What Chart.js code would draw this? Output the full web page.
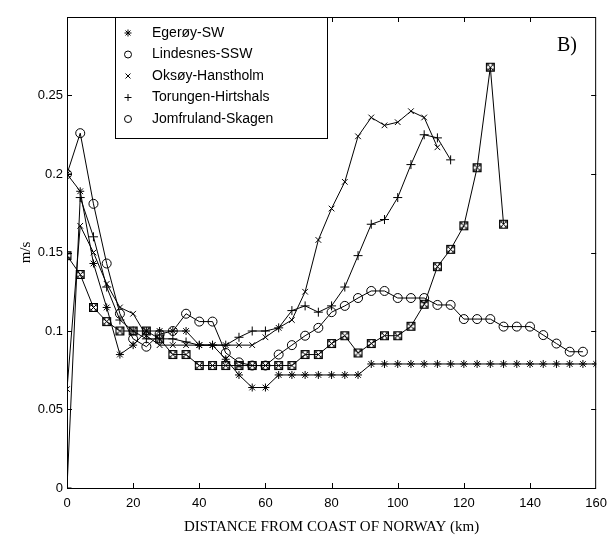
<!DOCTYPE html>
<html>
<head>
<meta charset="utf-8">
<script src="https://cdn.jsdelivr.net/npm/chart.js@4.4.1/dist/chart.umd.min.js"></script>
<style>
  body { margin: 0; background: #fff; }
</style>
</head>
<body>
<canvas id="chart" width="615" height="540"></canvas>
<script>
// distance from the Norwegian coast, km (every station sampled every 4 km)
const distanceKm = [0, 4, 8, 12, 16, 20, 24, 28, 32, 36, 40, 44, 48, 52, 56, 60, 64, 68, 72, 76,
  80, 84, 88, 92, 96, 100, 104, 108, 112, 116, 120, 124, 128, 132, 136, 140, 144, 148, 152, 156, 160];

const egeroySW = [0.2, 0.189, 0.143, 0.115, 0.085, 0.091, 0.1, 0.1, 0.1, 0.1,
  0.091, 0.091, 0.082, 0.072, 0.064, 0.064, 0.072, 0.072, 0.072, 0.072,
  0.072, 0.072, 0.072, 0.079, 0.079, 0.079, 0.079, 0.079, 0.079, 0.079,
  0.079, 0.079, 0.079, 0.079, 0.079, 0.079, 0.079, 0.079, 0.079, 0.079, 0.079];

const lindesnesSSW = [0.2, 0.226, 0.181, 0.143, 0.111, 0.095, 0.09, 0.098, 0.1, 0.111,
  0.106, 0.106, 0.086, 0.08, 0.078, 0.078, 0.085, 0.091, 0.097, 0.102,
  0.112, 0.116, 0.121, 0.1255, 0.1255, 0.121, 0.121, 0.121, 0.1166, 0.1166,
  0.1076, 0.1076, 0.1076, 0.1028, 0.1028, 0.1028, 0.0974, 0.092, 0.0868, 0.0868];

const oksoyHanstholm = [0.063, 0.167, 0.15, 0.13, 0.115, 0.111, 0.097, 0.091, 0.091, 0.091,
  0.091, 0.091, 0.091, 0.091, 0.091, 0.096, 0.102, 0.107, 0.125, 0.158,
  0.178, 0.195, 0.224, 0.236, 0.231, 0.233, 0.24, 0.236, 0.217];

const torungenHirtshals = [0, 0.185, 0.16, 0.128, 0.107, 0.1, 0.095, 0.095, 0.095, 0.093,
  0.091, 0.091, 0.091, 0.096, 0.1, 0.1, 0.102, 0.113, 0.116, 0.112,
  0.116, 0.128, 0.148, 0.168, 0.171, 0.185, 0.206, 0.225, 0.223, 0.209];

const jomfrulandSkagen = [0.148, 0.136, 0.115, 0.106, 0.1, 0.1, 0.1, 0.095, 0.085, 0.085,
  0.078, 0.078, 0.078, 0.078, 0.078, 0.078, 0.078, 0.078, 0.085, 0.085,
  0.092, 0.097, 0.086, 0.092, 0.097, 0.097, 0.103, 0.117, 0.141, 0.152,
  0.167, 0.204, 0.268, 0.168];

const yTicks = [0, 0.05, 0.1, 0.15, 0.2, 0.25];

function toPoints(values) {
  return values.map((v, i) => ({ x: distanceKm[i], y: v }));
}

// boxed circle-with-cross marker used on the Jomfruland line
const boxMark = document.createElement('canvas');
boxMark.width = 11;
boxMark.height = 11;
(function () {
  const c = boxMark.getContext('2d');
  c.strokeStyle = '#000';
  c.lineWidth = 1;
  c.strokeRect(1.5, 1.5, 8, 8);
  c.beginPath();
  c.arc(5.5, 5.5, 4, 0, Math.PI * 2);
  c.stroke();
  c.beginPath();
  c.moveTo(3, 3); c.lineTo(8, 8);
  c.moveTo(8, 3); c.lineTo(3, 8);
  c.stroke();
})();

function series(label, values, style, radius, legendStyle) {
  return {
    label: label,
    data: toPoints(values),
    borderColor: '#000',
    backgroundColor: 'rgba(0,0,0,0)',
    borderWidth: 1,
    pointStyle: style,
    pointRadius: radius,
    pointBorderWidth: 1,
    pointBorderColor: '#000',
    pointBackgroundColor: 'rgba(0,0,0,0)',
    legendStyle: legendStyle,
    tension: 0,
  };
}

const data = {
  datasets: [
    series('Egerøy-SW', egeroySW, 'star', 4, 'star'),
    series('Lindesnes-SSW', lindesnesSSW, 'circle', 4.5, 'circle'),
    series('Oksøy-Hanstholm', oksoyHanstholm, 'crossRot', 4, 'crossRot'),
    series('Torungen-Hirtshals', torungenHirtshals, 'cross', 4.5, 'cross'),
    series('Jomfruland-Skagen', jomfrulandSkagen, boxMark, 5, 'circle'),
  ],
};

// box with inward ticks, legend inside the axes and the panel letter
const matlabFrame = {
  id: 'matlabFrame',
  afterDraw(chart) {
    const ctx = chart.ctx;
    const a = chart.chartArea;
    const xs = chart.scales.x;
    const ys = chart.scales.y;
    ctx.save();
    ctx.strokeStyle = '#000';
    ctx.lineWidth = 1;
    ctx.strokeRect(a.left + 0.5, a.top + 0.5, a.right - a.left - 1, a.bottom - a.top);
    ctx.beginPath();
    for (let k = 20; k < 160; k += 20) {
      const px = Math.round(xs.getPixelForValue(k)) + 0.5;
      ctx.moveTo(px, a.bottom); ctx.lineTo(px, a.bottom - 5);
      ctx.moveTo(px, a.top); ctx.lineTo(px, a.top + 5);
    }
    yTicks.forEach(v => {
      if (v === 0) return;
      const py = Math.round(ys.getPixelForValue(v)) + 0.5;
      ctx.moveTo(a.left, py); ctx.lineTo(a.left + 5, py);
      ctx.moveTo(a.right, py); ctx.lineTo(a.right - 5, py);
    });
    ctx.stroke();

    // legend box
    const lx = 115, ly = a.top, lw = 212, lh = 121;
    ctx.fillStyle = '#fff';
    ctx.fillRect(lx, ly, lw, lh);
    ctx.strokeRect(lx + 0.5, ly + 0.5, lw, lh);
    ctx.font = '14px "Liberation Sans", Arial, sans-serif';
    ctx.textBaseline = 'middle';
    chart.data.datasets.forEach((ds, i) => {
      const yy = ly + 16 + i * 21.5;
      ctx.fillStyle = 'rgba(0,0,0,0)';
      Chart.helpers.drawPoint(ctx, {
        pointStyle: ds.legendStyle, radius: 3.5, rotation: 0, borderWidth: 1,
      }, 128, yy);
      ctx.fillStyle = '#000';
      ctx.fillText(ds.label, 152, yy);
    });

    ctx.font = '20px "Liberation Serif", "Times New Roman", serif';
    ctx.textBaseline = 'middle';
    ctx.fillText('B)', 557, 46);
    ctx.restore();
  },
};

const config = {
  type: 'line',
  data: data,
  options: {
    responsive: false,
    animation: false,
    layout: {
      padding: { left: 13, right: 13, top: 17, bottom: 0 },
    },
    plugins: {
      legend: { display: false },
      tooltip: { enabled: false },
    },
    scales: {
      x: {
        type: 'linear',
        min: 0,
        max: 160,
        grid: { display: false, drawTicks: false },
        border: { display: false },
        ticks: {
          stepSize: 20,
          padding: 8,
          color: '#000',
          font: { family: '"Liberation Sans", Arial, sans-serif', size: 13 },
        },
        title: {
          display: true,
          text: 'DISTANCE FROM COAST OF NORWAY (km)',
          color: '#000',
          font: { family: '"Liberation Serif", "Times New Roman", serif', size: 15 },
        },
        afterFit(s) { s.height = 52; },
      },
      y: {
        min: 0,
        max: 0.3,
        grid: { display: false, drawTicks: false },
        border: { display: false },
        afterBuildTicks(s) { s.ticks = yTicks.map(v => ({ value: v })); },
        ticks: {
          padding: 4,
          color: '#000',
          font: { family: '"Liberation Sans", Arial, sans-serif', size: 13 },
          callback: v => String(Math.round(v * 100) / 100),
        },
        title: {
          display: true,
          text: 'm/s',
          color: '#000',
          font: { family: '"Liberation Serif", "Times New Roman", serif', size: 15 },
        },
        afterFit(s) { s.width = 54; },
      },
    },
  },
  plugins: [matlabFrame],
};

const myChart = new Chart(document.getElementById('chart'), config);
</script>
</body>
</html>
